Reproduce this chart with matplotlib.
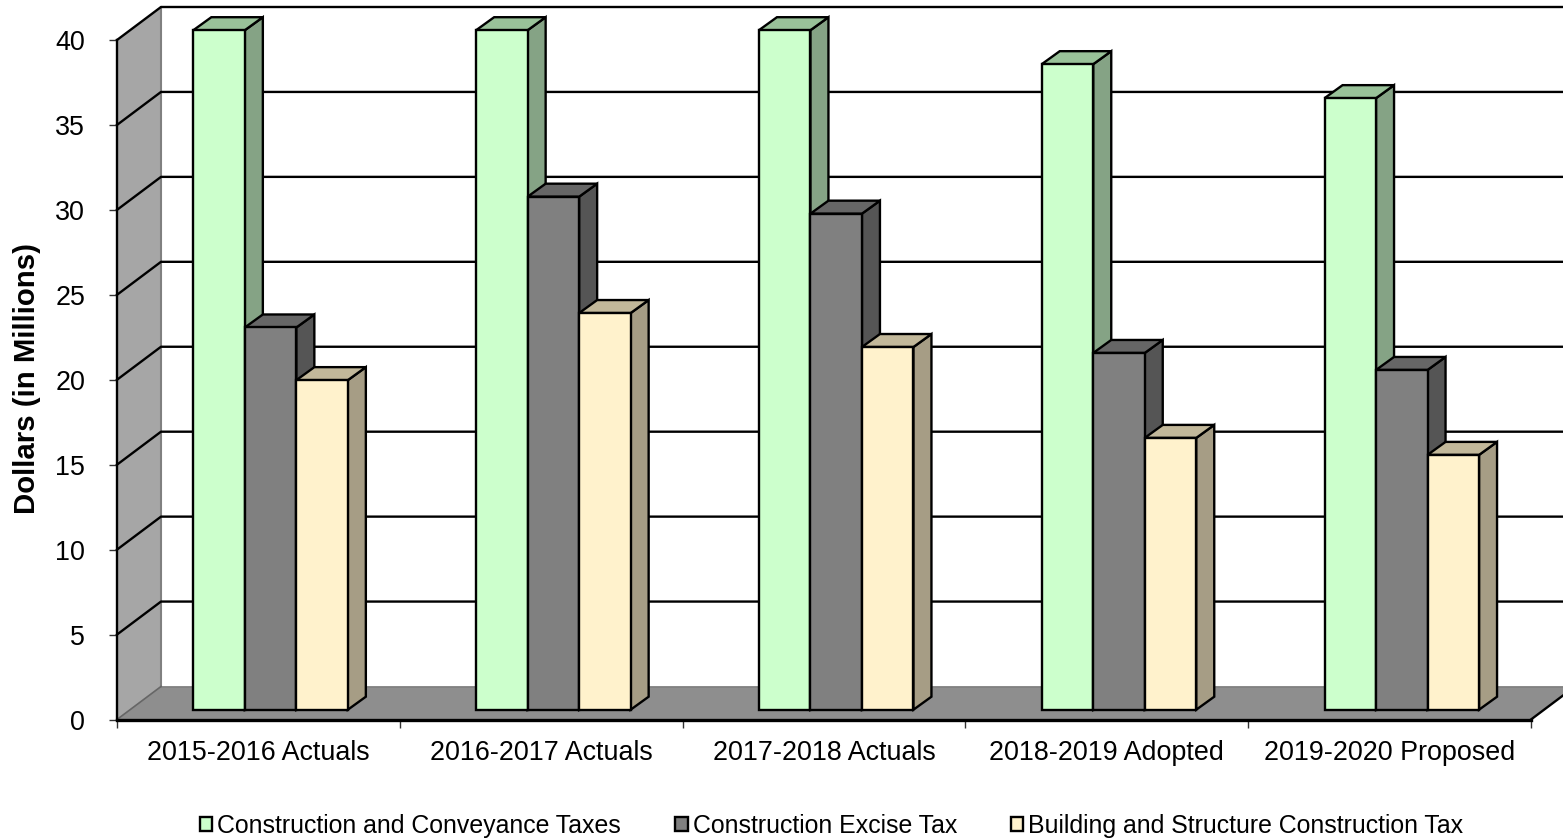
import numpy as np
from matplotlib import pyplot as plt

plt.rcParams['font.family'] = ['Liberation Sans', 'DejaVu Sans']

categories = ['2015-2016 Actuals', '2016-2017 Actuals', '2017-2018 Actuals',
              '2018-2019 Adopted', '2019-2020 Proposed']
conveyance = [40.0, 40.0, 40.0, 38.0, 36.0]
excise = [22.5, 30.2, 29.2, 21.0, 20.0]
building = [19.4, 23.35, 21.35, 16.0, 15.0]
series_names = ['Construction and Conveyance Taxes', 'Construction Excise Tax',
                'Building and Structure Construction Tax']
y_ticks = [0, 5, 10, 15, 20, 25, 30, 35, 40]

W, H = 1563, 838
LEFT, RIGHT, BOTTOM, TOP = 117, 1531, 719.5, 40

fig = plt.figure(figsize=(W / 100, H / 100), dpi=100)
ax = fig.add_axes([LEFT / W, (H - BOTTOM) / H, (RIGHT - LEFT) / W, (BOTTOM - TOP) / H])
ax.set_xlim(0, 5)
ax.set_ylim(0, 40)

# pixels to data units, the fake 3d depth is easier to think about in pixels
px_x = 5 / (RIGHT - LEFT)
px_y = 40 / (BOTTOM - TOP)
wall_dx, wall_dy = 44 * px_x, 33 * px_y
bar_dx, bar_dy = 18 * px_x, 13 * px_y
lift_dx, lift_dy = 12.2 * px_x, 9.8 * px_y
bar_width = 51.5 * px_x

# walls and floor
ax.fill([0, wall_dx, wall_dx, 0], [0, wall_dy, 40 + wall_dy, 40], color='#a6a6a6', lw=0, clip_on=False, zorder=0.5)
ax.fill([0, wall_dx, 5 + wall_dx, 5], [0, wall_dy, wall_dy, 0], color='#8e8e8e', lw=0, clip_on=False, zorder=0.6)
ax.plot([wall_dx, wall_dx], [wall_dy, 40 + wall_dy], color='#808080', lw=1.5, clip_on=False, zorder=0.7)
ax.plot([wall_dx, 5 + wall_dx], [wall_dy, wall_dy], color='#808080', lw=1.2, clip_on=False, zorder=0.7)
ax.plot([0, wall_dx], [0, wall_dy], color='#666666', lw=1.2, clip_on=False, zorder=0.7)
ax.plot([5, 5 + wall_dx], [0, wall_dy], color='black', lw=1.7, clip_on=False, zorder=0.8)

# gridlines, back wall part and slanted side wall part
for v in y_ticks[1:]:
    ax.plot([0, wall_dx, 5 + wall_dx], [v, v + wall_dy, v + wall_dy], color='black', lw=1.7,
            clip_on=False, zorder=1)

groups = np.arange(len(categories)) + 0.5 + lift_dx
all_values = [conveyance, excise, building]
fronts = ['#ccffcc', '#808080', '#fff2cc']
sides = ['#85a385', '#555555', '#a69d85']
tops = ['#99c299', '#666666', '#c2b89a']

handles = []
for k, values in enumerate(all_values):
    xs = groups + (k - 1) * bar_width
    for x, v in zip(xs, values):
        x0, x1 = x - bar_width / 2, x + bar_width / 2
        y1 = v + lift_dy
        ax.fill([x1, x1 + bar_dx, x1 + bar_dx, x1], [lift_dy, lift_dy + bar_dy, y1 + bar_dy, y1],
                facecolor=sides[k], edgecolor='black', lw=1.7, clip_on=False, zorder=3)
        ax.fill([x0, x0 + bar_dx, x1 + bar_dx, x1], [y1, y1 + bar_dy, y1 + bar_dy, y1],
                facecolor=tops[k], edgecolor='black', lw=1.7, clip_on=False, zorder=3)
    bars = ax.bar(xs, values, bar_width, bottom=lift_dy, color=fronts[k], edgecolor='black',
                  linewidth=1.7, clip_on=False, zorder=3, label=series_names[k])
    handles.append(bars)

ax.set_xlim(0, 5)
ax.set_ylim(0, 40)

ax.spines['top'].set_visible(False)
ax.spines['right'].set_visible(False)
ax.spines['left'].set_linewidth(1.7)
ax.spines['bottom'].set_linewidth(2.4)
ax.spines['left'].set_zorder(2)
ax.spines['bottom'].set_zorder(2)

ax.set_yticks(y_ticks)
ax.set_xticks(np.arange(6))
ax.set_xticklabels([])
ax.set_xticks(np.arange(5) + 0.5, labels=categories, minor=True)
ax.tick_params(axis='x', which='major', length=6, width=1, color='#333333')
ax.tick_params(axis='x', which='minor', length=0, pad=14.5, labelsize=19.4)
ax.tick_params(axis='y', length=6, width=1, color='#333333', pad=17, labelsize=19.4)

fig.text(27 / W, 1 - 379 / H, 'Dollars (in Millions)', rotation=90, fontsize=21.2,
         fontweight='bold', ha='center', va='center')

fig.legend(handles=handles, labels=series_names, loc='center left',
           bbox_to_anchor=(200 / W, 1 - 826 / H), ncol=3, frameon=False, fontsize=17.9,
           handlelength=0.5, handleheight=0.45, handletextpad=0.2, columnspacing=2.17,
           borderaxespad=0, borderpad=0)

fig.savefig('out.png', dpi=100)
